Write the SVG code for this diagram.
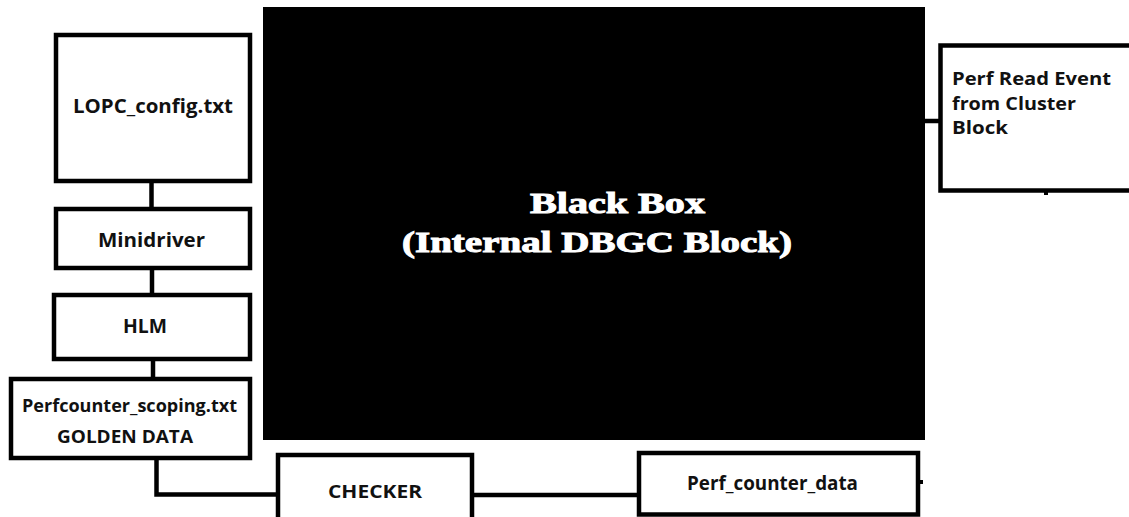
<svg xmlns="http://www.w3.org/2000/svg" width="1129" height="517" viewBox="0 0 1129 517">
  <style>
    .box { fill: #ffffff; stroke: #000000; stroke-width: 4.5; }
    .wire { fill: none; stroke: #000000; stroke-width: 4.5; }
    .lbl { font-family: "Open Sans", "Liberation Sans", sans-serif; font-weight: 700; fill: #111111; }
    .big { font-family: "Liberation Serif", "DejaVu Serif", serif; font-weight: 700; fill: #ffffff; stroke: #ffffff; stroke-width: 1; font-size: 30px; }
  </style>
  <rect width="1129" height="517" fill="#ffffff"/>
  <g id="connectors">
    <line class="wire" x1="151.5" y1="183" x2="151.5" y2="208"/>
    <line class="wire" x1="152" y1="269" x2="152" y2="294"/>
    <line class="wire" x1="153" y1="360" x2="153" y2="378"/>
    <polyline class="wire" points="156.5,459 156.5,494.5 278,494.5"/>
    <line class="wire" x1="472" y1="495" x2="639" y2="495"/>
    <line class="wire" x1="925" y1="121" x2="940" y2="121"/>
    <rect x="920" y="480" width="3" height="4" fill="#000"/>
    <rect x="1044" y="191" width="4" height="4" fill="#000"/>
  </g>
  <g id="black-box">
    <rect x="263" y="7" width="662" height="433" fill="#000000"/>
    <text class="big" x="530" y="213" textLength="175" lengthAdjust="spacingAndGlyphs">Black Box</text>
    <text class="big" x="402" y="252" textLength="390" lengthAdjust="spacingAndGlyphs">(Internal DBGC Block)</text>
  </g>
  <g id="lopc-config">
    <rect class="box" x="56" y="35" width="194" height="146"/>
    <text class="lbl" x="73" y="113" font-size="19" textLength="160" lengthAdjust="spacingAndGlyphs">LOPC_config.txt</text>
  </g>
  <g id="minidriver">
    <rect class="box" x="56" y="209" width="194" height="59"/>
    <text class="lbl" x="98" y="247" font-size="19" textLength="107" lengthAdjust="spacingAndGlyphs">Minidriver</text>
  </g>
  <g id="hlm">
    <rect class="box" x="54" y="295" width="196" height="64"/>
    <text class="lbl" x="123" y="333" font-size="19" textLength="44" lengthAdjust="spacingAndGlyphs">HLM</text>
  </g>
  <g id="perfcounter-scoping">
    <rect class="box" x="11" y="379" width="239" height="79"/>
    <text class="lbl" x="22" y="412" font-size="18" textLength="215" lengthAdjust="spacingAndGlyphs">Perfcounter_scoping.txt</text>
    <text class="lbl" x="57" y="443" font-size="18" textLength="136" lengthAdjust="spacingAndGlyphs">GOLDEN DATA</text>
  </g>
  <g id="checker">
    <rect class="box" x="278" y="455" width="194" height="80"/>
    <text class="lbl" x="328" y="498" font-size="18" textLength="94" lengthAdjust="spacingAndGlyphs">CHECKER</text>
  </g>
  <g id="perf-counter-data">
    <rect class="box" x="639" y="453" width="279" height="61.5"/>
    <text class="lbl" x="687" y="490" font-size="19" textLength="171" lengthAdjust="spacingAndGlyphs">Perf_counter_data</text>
  </g>
  <g id="perf-read-event">
    <rect class="box" x="940.5" y="45.5" width="200" height="145"/>
    <text class="lbl" x="952" y="85" font-size="17" textLength="159" lengthAdjust="spacingAndGlyphs">Perf Read Event</text>
    <text class="lbl" x="952" y="110" font-size="17" textLength="124" lengthAdjust="spacingAndGlyphs">from Cluster</text>
    <text class="lbl" x="952" y="134" font-size="17" textLength="56" lengthAdjust="spacingAndGlyphs">Block</text>
  </g>
</svg>
